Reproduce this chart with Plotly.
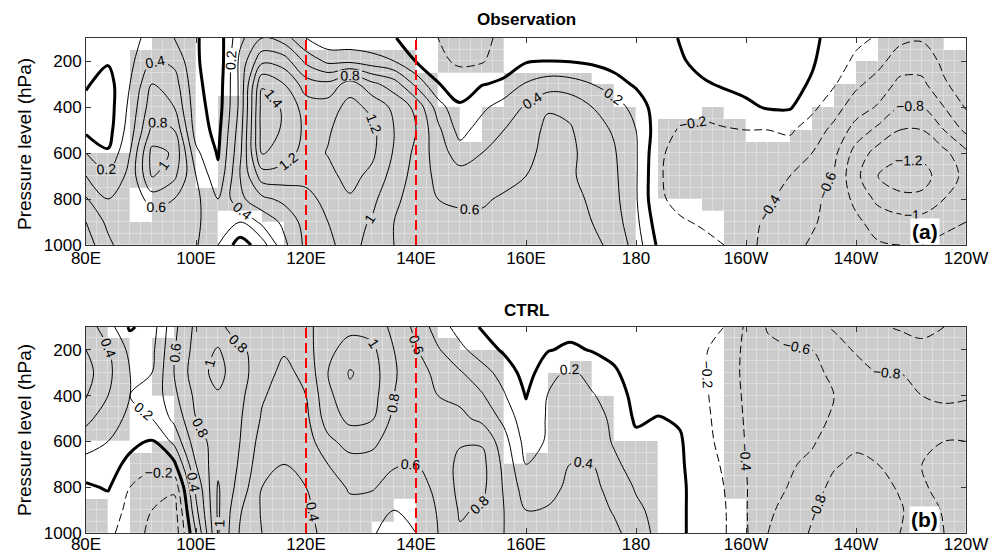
import plotly.graph_objects as go

FONT = "Liberation Sans, Arial, Helvetica, sans-serif"

# ---------------- grid of the fields ----------------
lon = list(range(80, 241, 4))          # 80E ... 120W (240)
plev = [100, 200, 300, 400, 500, 600, 700, 800, 900, 1000]

# Observation field, one list per longitude (values at plev)
obs_cols = [
    [0.10, 0.08, 0.02, -0.05, -0.05, 0.20, 0.40, 0.62, 0.80, 0.90],   # 80
    [0.12, 0.02, -0.08, -0.10, -0.08, 0.02, 0.25, 0.40, 0.55, 0.65],  # 84
    [0.15, 0.15, 0.20, 0.25, 0.30, 0.40, 0.45, 0.42, 0.40, 0.45],     # 88
    [0.25, 0.40, 0.60, 0.72, 0.85, 1.06, 1.02, 0.70, 0.45, 0.40],     # 92
    [0.20, 0.35, 0.50, 0.60, 0.80, 0.98, 0.85, 0.60, 0.45, 0.45],     # 96
    [0.02, 0.03, 0.05, 0.08, 0.10, 0.25, 0.40, 0.45, 0.45, 0.42],     # 100
    [-0.12, -0.15, -0.12, -0.10, -0.06, -0.02, 0.05, 0.20, 0.22, 0.20],  # 104
    [0.35, 0.45, 0.45, 0.45, 0.50, 0.55, 0.60, 0.55, 0.20, -0.10],    # 108
    [0.60, 0.95, 1.38, 1.48, 1.48, 1.42, 1.10, 0.75, 0.45, 0.10],     # 112
    [0.50, 0.90, 1.20, 1.38, 1.38, 1.30, 1.10, 0.85, 0.65, 0.55],     # 116
    [0.20, 0.55, 0.90, 1.10, 1.15, 1.12, 1.05, 0.95, 0.88, 0.85],     # 120
    [0.05, 0.35, 0.85, 1.10, 1.18, 1.21, 1.15, 1.05, 1.00, 0.98],     # 124
    [0.05, 0.35, 1.10, 1.27, 1.30, 1.30, 1.26, 1.18, 1.08, 1.04],     # 128
    [0.05, 0.28, 0.85, 1.15, 1.25, 1.24, 1.15, 1.05, 0.98, 0.96],     # 132
    [0.01, 0.20, 0.70, 0.95, 1.00, 0.98, 0.92, 0.85, 0.80, 0.80],     # 136
    [-0.08, -0.01, 0.35, 0.75, 0.80, 0.75, 0.72, 0.70, 0.68, 0.68],   # 140
    [-0.20, -0.15, 0.01, 0.30, 0.45, 0.50, 0.55, 0.60, 0.63, 0.63],   # 144
    [-0.25, -0.24, -0.08, 0.02, 0.12, 0.30, 0.48, 0.58, 0.63, 0.63],  # 148
    [-0.22, -0.22, -0.01, 0.15, 0.30, 0.40, 0.50, 0.58, 0.63, 0.63],  # 152
    [-0.18, -0.08, 0.03, 0.30, 0.40, 0.45, 0.55, 0.62, 0.65, 0.65],   # 156
    [-0.10, -0.02, 0.22, 0.42, 0.50, 0.55, 0.60, 0.66, 0.66, 0.65],   # 160
    [-0.08, 0.00, 0.30, 0.58, 0.65, 0.66, 0.68, 0.68, 0.68, 0.65],    # 164
    [-0.08, -0.01, 0.28, 0.55, 0.62, 0.64, 0.62, 0.64, 0.66, 0.64],   # 168
    [-0.08, -0.04, 0.20, 0.40, 0.48, 0.52, 0.55, 0.58, 0.60, 0.62],   # 172
    [-0.08, -0.08, 0.08, 0.30, 0.38, 0.42, 0.44, 0.46, 0.50, 0.58],   # 176
    [-0.08, -0.10, -0.03, 0.12, 0.20, 0.22, 0.22, 0.22, 0.25, 0.30],  # 180
    [-0.08, -0.10, -0.12, -0.10, -0.10, -0.15, -0.17, -0.17, -0.10, -0.03],  # 184
    [0.01, -0.02, -0.08, -0.10, -0.22, -0.30, -0.30, -0.25, -0.18, -0.10],   # 188
    [0.08, 0.05, -0.02, -0.12, -0.25, -0.32, -0.35, -0.33, -0.22, -0.15],    # 192
    [0.12, 0.10, 0.02, -0.08, -0.22, -0.32, -0.36, -0.36, -0.30, -0.20],     # 196
    [0.12, 0.12, 0.06, -0.04, -0.20, -0.30, -0.36, -0.38, -0.36, -0.35],     # 200
    [0.12, 0.12, 0.08, 0.02, -0.20, -0.30, -0.36, -0.38, -0.42, -0.45],      # 204
    [0.10, 0.10, 0.06, 0.02, -0.17, -0.30, -0.40, -0.45, -0.50, -0.55],      # 208
    [0.03, 0.02, -0.02, -0.15, -0.30, -0.40, -0.50, -0.55, -0.58, -0.62],    # 212
    [-0.05, -0.10, -0.18, -0.32, -0.45, -0.55, -0.62, -0.66, -0.66, -0.64],  # 216
    [-0.15, -0.24, -0.36, -0.50, -0.68, -0.88, -0.95, -0.85, -0.76, -0.70],  # 220
    [-0.22, -0.34, -0.48, -0.62, -0.85, -1.08, -1.20, -1.05, -0.88, -0.78],  # 224
    [-0.35, -0.50, -0.65, -0.80, -1.00, -1.15, -1.30, -1.15, -0.92, -0.80],  # 228
    [-0.38, -0.50, -0.65, -0.80, -1.00, -1.15, -1.28, -1.15, -0.92, -0.80],  # 232
    [-0.30, -0.36, -0.42, -0.60, -0.80, -1.05, -1.10, -1.00, -0.85, -0.75],  # 236
    [-0.25, -0.30, -0.32, -0.38, -0.55, -0.85, -0.95, -0.90, -0.80, -0.70],  # 240
]

# CTRL field
ctrl_cols = [
    [0.50, 0.60, 0.68, 0.62, 0.45, 0.30, 0.12, -0.03, -0.08, -0.10],   # 80
    [0.30, 0.42, 0.45, 0.40, 0.30, 0.20, 0.08, 0.02, -0.10, -0.15],    # 84
    [-0.03, 0.15, 0.20, 0.20, 0.15, 0.05, -0.05, -0.20, -0.25, -0.30], # 88
    [0.10, 0.15, 0.20, 0.25, 0.20, -0.02, -0.15, -0.30, -0.40, -0.45], # 92
    [0.55, 0.58, 0.60, 0.55, 0.45, 0.25, -0.05, -0.35, -0.50, -0.55], # 96
    [0.85, 0.88, 0.92, 0.85, 0.80, 0.72, 0.60, 0.45, 0.35, 0.20],      # 100
    [0.85, 1.02, 1.06, 0.98, 0.90, 0.88, 0.95, 1.02, 1.03, 1.02],      # 104
    [0.70, 0.82, 0.88, 0.85, 0.82, 0.80, 0.78, 0.72, 0.62, 0.58],      # 108
    [0.80, 0.75, 0.68, 0.62, 0.58, 0.52, 0.46, 0.40, 0.38, 0.40],      # 112
    [0.75, 0.62, 0.55, 0.52, 0.50, 0.45, 0.40, 0.35, 0.30, 0.32],      # 116
    [0.75, 0.72, 0.65, 0.60, 0.55, 0.50, 0.45, 0.40, 0.38, 0.38],      # 120
    [0.90, 0.95, 1.00, 0.95, 0.90, 0.75, 0.60, 0.52, 0.45, 0.42],      # 124
    [0.95, 1.08, 1.22, 1.15, 1.05, 0.88, 0.72, 0.62, 0.55, 0.48],      # 128
    [0.92, 1.05, 1.10, 1.08, 1.02, 0.85, 0.72, 0.62, 0.50, 0.42],      # 132
    [0.75, 0.80, 0.82, 0.80, 0.75, 0.70, 0.62, 0.52, 0.40, 0.32],      # 136
    [0.55, 0.62, 0.68, 0.70, 0.68, 0.65, 0.60, 0.50, 0.42, 0.40],      # 140
    [0.30, 0.42, 0.55, 0.60, 0.63, 0.65, 0.68, 0.66, 0.62, 0.60],      # 144
    [0.12, 0.25, 0.42, 0.55, 0.65, 0.78, 0.85, 0.85, 0.82, 0.78],      # 148
    [-0.02, 0.10, 0.28, 0.42, 0.55, 0.78, 0.86, 0.85, 0.78, 0.70],     # 152
    [-0.08, -0.03, 0.12, 0.22, 0.35, 0.48, 0.55, 0.58, 0.60, 0.60],    # 156
    [-0.15, -0.12, -0.08, -0.01, 0.06, 0.12, 0.20, 0.30, 0.40, 0.45],  # 160
    [-0.10, -0.01, 0.12, 0.21, 0.22, 0.22, 0.24, 0.32, 0.42, 0.48],    # 164
    [-0.06, 0.03, 0.25, 0.32, 0.34, 0.36, 0.40, 0.45, 0.50, 0.55],     # 168
    [-0.08, -0.01, 0.12, 0.22, 0.28, 0.32, 0.40, 0.45, 0.50, 0.58],    # 172
    [-0.10, -0.06, 0.03, 0.10, 0.16, 0.18, 0.24, 0.33, 0.38, 0.45],    # 176
    [-0.12, -0.12, -0.10, -0.06, -0.03, 0.05, 0.12, 0.18, 0.24, 0.30], # 180
    [-0.14, -0.14, -0.12, -0.08, 0.01, 0.06, 0.10, 0.12, 0.14, 0.15],  # 184
    [-0.16, -0.16, -0.14, -0.10, -0.02, 0.02, 0.03, 0.04, 0.04, 0.04], # 188
    [-0.14, -0.17, -0.17, -0.16, -0.15, -0.14, -0.12, -0.10, -0.10, -0.10],  # 192
    [-0.20, -0.28, -0.30, -0.29, -0.27, -0.25, -0.22, -0.20, -0.18, -0.18],  # 196
    [-0.43, -0.44, -0.44, -0.43, -0.42, -0.41, -0.40, -0.39, -0.39, -0.38],  # 200
    [-0.62, -0.55, -0.50, -0.48, -0.48, -0.50, -0.52, -0.54, -0.57, -0.60],  # 204
    [-0.70, -0.58, -0.52, -0.55, -0.52, -0.55, -0.58, -0.61, -0.66, -0.70],  # 208
    [-0.75, -0.60, -0.55, -0.52, -0.55, -0.58, -0.64, -0.72, -0.78, -0.82],  # 212
    [-0.82, -0.72, -0.64, -0.60, -0.62, -0.68, -0.78, -0.85, -0.90, -0.92],  # 216
    [-0.90, -0.82, -0.72, -0.68, -0.70, -0.76, -0.84, -0.90, -0.95, -1.00],  # 220
    [-0.98, -0.90, -0.80, -0.72, -0.72, -0.74, -0.80, -0.86, -0.90, -0.92],  # 224
    [-1.02, -0.90, -0.80, -0.76, -0.72, -0.72, -0.74, -0.78, -0.82, -0.80],  # 228
    [-1.05, -0.95, -0.88, -0.80, -0.72, -0.68, -0.60, -0.62, -0.70, -0.72],  # 232
    [-1.00, -0.95, -0.90, -0.84, -0.72, -0.60, -0.55, -0.55, -0.58, -0.60],  # 236
    [-0.95, -0.92, -0.88, -0.82, -0.72, -0.60, -0.50, -0.50, -0.55, -0.58],  # 240
]

# Significance (gray) : pressure intervals per 4-degree column (80-84, 84-88, ...)
obs_sig = [
    [(600, 1000)], [(600, 1000)], [(150, 750), (900, 1000)], [(100, 1000)],
    [(100, 1000)], [(750, 1000)], [(350, 850)], [(100, 850)],
    [(100, 900)], [(100, 1000)], [(150, 1000)], [(150, 1000)],
    [(150, 1000)], [(150, 1000)], [(150, 1000)], [(250, 1000)],
    [(100, 250), (400, 1000)], [(100, 250), (550, 1000)], [(100, 250), (400, 1000)], [(250, 1000)],
    [(250, 1000)], [(250, 1000)], [(250, 1000)], [(300, 1000)],
    [(400, 1000)], [], [(450, 800)], [(450, 800)],
    [(400, 850)], [(450, 1000)], [(550, 1000)], [(550, 1000)],
    [(500, 1000)], [(400, 1000)], [(300, 1000)], [(200, 1000)],
    [(100, 1000)], [(100, 1000)], [(100, 1000)], [(150, 1000)],
]
ctrl_sig = [
    [(100, 600), (850, 1000)], [(150, 600)], [(650, 1000)], [(150, 400), (600, 1000)],
    [(100, 1000)], [(100, 1000)], [(100, 1000)], [(100, 1000)],
    [(100, 1000)], [(100, 1000)], [(100, 1000)], [(100, 1000)],
    [(100, 1000)], [(100, 950)], [(100, 850)], [(100, 1000)],
    [(150, 1000)], [(200, 1000)], [(200, 1000)], [(700, 1000)],
    [(650, 1000)], [(300, 1000)], [(250, 1000)], [(400, 1000)],
    [(600, 1000)], [(600, 1000)], [], [],
    [], [(100, 850)], [(100, 1000)], [(100, 1000)],
    [(100, 1000)], [(100, 1000)], [(100, 1000)], [(100, 1000)],
    [(100, 1000)], [(100, 1000)], [(100, 1000)], [(100, 1000)],
]

xtick_vals = [80, 100, 120, 140, 160, 180, 200, 220, 240]
xtick_text = ["80E", "100E", "120E", "140E", "160E", "180", "160W", "140W", "120W"]
ytick_vals = [200, 400, 600, 800, 1000]
ref_lines = [120, 140]
titles = ["Observation", "CTRL"]
tags = ["(a)", "(b)"]


def to_rows(cols):
    return [[c[j] for c in cols] for j in range(len(plev))]


def mask_grid(sig):
    xs = [81 + 2 * k for k in range(80)]
    ys = [125 + 50 * r for r in range(18)]
    z = []
    for r in range(18):
        lo, hi = 100 + 50 * r, 150 + 50 * r
        row = []
        for k in range(80):
            ivs = sig[k // 2]
            row.append(1 if any(a <= lo and hi <= b for a, b in ivs) else None)
        z.append(row)
    return xs, ys, z


def contour(z, xa, ya, start, end, dash, width, labels):
    return go.Contour(
        x=lon, y=plev, z=z, xaxis=xa, yaxis=ya, autocontour=False,
        contours=dict(start=start, end=end, size=0.2, coloring="lines",
                      showlabels=labels,
                      labelfont=dict(family=FONT, size=14, color="black")),
        colorscale=[[0, "black"], [1, "black"]], showscale=False,
        line=dict(width=width, dash=dash, smoothing=1.0),
        hoverinfo="skip")


fig = go.Figure()
panels = [(obs_cols, obs_sig, "x", "y"), (ctrl_cols, ctrl_sig, "x2", "y2")]
for cols, sig, xa, ya in panels:
    xs, ys, zm = mask_grid(sig)
    fig.add_trace(go.Heatmap(x=xs, y=ys, z=zm, xaxis=xa, yaxis=ya, zmin=0, zmax=1,
                             colorscale=[[0, "#dedede"], [1, "#dedede"]],
                             showscale=False, hoverinfo="skip"))
    fig.add_trace(go.Heatmap(x=xs, y=ys, z=zm, xaxis=xa, yaxis=ya, zmin=0, zmax=1,
                             colorscale=[[0, "#cccccc"], [1, "#cccccc"]],
                             xgap=1, ygap=1, showscale=False, hoverinfo="skip"))
    z = to_rows(cols)
    fig.add_trace(contour(z, xa, ya, 0.2, 1.6, "solid", 1, True))
    fig.add_trace(contour(z, xa, ya, -1.4, -0.2, "8px,4px", 1, True))
    fig.add_trace(contour(z, xa, ya, 0, 0, "solid", 3, False))
    for xv in ref_lines:
        fig.add_shape(type="line", xref=xa, yref=ya, x0=xv, x1=xv, y0=1000, y1=100,
                      line=dict(color="red", width=2, dash="10px,5px"))

axis_common = dict(showgrid=False, zeroline=False, showline=True, linecolor="#333",
                   linewidth=1, mirror="allticks", ticks="inside", ticklen=5,
                   tickcolor="#333", layer="above traces", automargin=False,
                   tickfont=dict(family=FONT, size=17, color="black"))

# The page body has an 8 px margin; the figure fills the rest of the window and
# every position below is measured in window pixels minus that offset.
W, H, OFF = 992, 547, 8


def px_x(x):
    return (x - OFF) / W


def px_y(y):
    return 1 - (y - OFF) / H


xdom = [px_x(86), px_x(966)]
fig.update_layout(
    width=W, height=H,
    margin=dict(l=0, r=0, t=0, b=0, pad=0, autoexpand=False),
    paper_bgcolor="white", plot_bgcolor="white", showlegend=False,
    xaxis=dict(domain=xdom, range=[80, 240], tickvals=xtick_vals, ticktext=xtick_text,
               anchor="y", ticklabelstandoff=-2, **axis_common),
    yaxis=dict(domain=[px_y(245), px_y(38)], range=[1000, 100], tickvals=ytick_vals,
               anchor="x", **axis_common),
    xaxis2=dict(domain=xdom, range=[80, 240], tickvals=xtick_vals, ticktext=xtick_text,
                anchor="y2", ticklabelstandoff=-4, **axis_common),
    yaxis2=dict(domain=[px_y(533), px_y(327)], range=[1000, 100], tickvals=ytick_vals,
                anchor="x2", **axis_common),
)

title_y = [px_y(20), px_y(310)]
ylab_y = [px_y(144), px_y(430)]
for i in range(2):
    fig.add_annotation(text="<b>%s</b>" % titles[i], xref="paper", yref="paper",
                       x=px_x(526), y=title_y[i], xanchor="center", yanchor="middle",
                       showarrow=False,
                       font=dict(family=FONT, size=17, color="black"))
    fig.add_annotation(text="Pressure level (hPa)", xref="paper", yref="paper",
                       x=px_x(24), y=ylab_y[i], xanchor="center", yanchor="middle",
                       textangle=-90, showarrow=False,
                       font=dict(family=FONT, size=19, color="black"))
    xa = "x" if i == 0 else "x2"
    ya = "y" if i == 0 else "y2"
    fig.add_annotation(text="<b>%s</b>" % tags[i], xref=xa, yref=ya, x=232.5, y=942,
                       xanchor="center", yanchor="middle",
                       showarrow=False, bgcolor="white", borderpad=1,
                       font=dict(family=FONT, size=21, color="black"))

fig.write_html("out.html")
